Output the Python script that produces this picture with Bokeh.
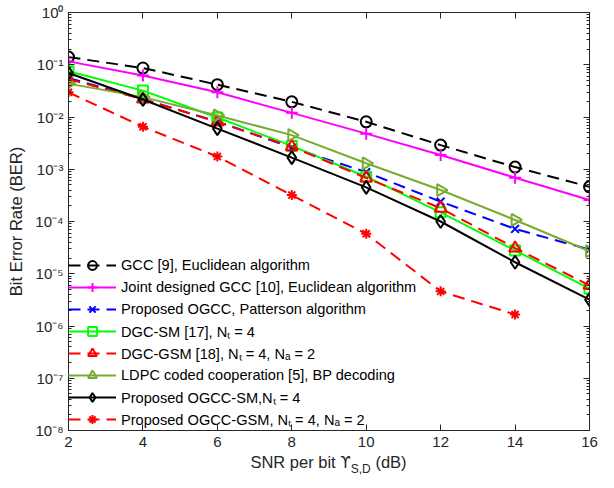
import numpy as np
from bokeh.plotting import figure
from bokeh.models import (Range1d, LinearAxis, LogAxis, FixedTicker, CustomJSTickFormatter,
                          Legend, LegendItem, Div, CustomLabelingPolicy)
from bokeh.layouts import column
from bokeh.embed import file_html
from bokeh.resources import INLINE

# ---------------- data ----------------
snr = [2, 4, 6, 8, 10, 12, 14, 16]
snr_gsm = [2, 4, 6, 8, 10, 12, 14]

ber_gcc = [0.14, 0.0865, 0.0416, 0.0195, 0.0081, 0.0029, 0.0011, 4.6e-4]
ber_joint = [0.116, 0.062, 0.0297, 0.012, 0.0048, 0.00187, 6.9e-4, 2.57e-4]
ber_ogcc = [0.056, 0.022, 0.0082, 0.0026, 8.8e-4, 2.4e-4, 7.2e-5, 2.9e-5]
ber_dgc_sm = [0.075, 0.032, 0.0098, 0.0028, 7.2e-4, 1.5e-4, 2.8e-5, 5.2e-6]
ber_dgc_gsm = [0.053, 0.022, 0.008, 0.0027, 6.8e-4, 1.8e-4, 3.1e-5, 6.0e-6]
ber_ldpc = [0.0435, 0.024, 0.0107, 0.0045, 0.0013, 4.0e-4, 1.07e-4, 2.7e-5]
ber_ogcc_sm = [0.0695, 0.0216, 0.006, 0.00167, 4.5e-4, 1.0e-4, 1.66e-5, 3.2e-6]
ber_ogcc_gsm = [0.0297, 0.0065, 0.00175, 3.2e-4, 5.8e-5, 4.6e-6, 1.66e-6]

x_ticks = [2, 4, 6, 8, 10, 12, 14, 16]
decades = list(range(-8, 1))

labels = [
    "GCC [9], Euclidean algorithm",
    "Joint designed GCC [10], Euclidean algorithm",
    "Proposed OGCC, Patterson algorithm",
    "DGC-SM [17], N\u209c = 4",
    "DGC-GSM [18], N\u209c = 4, N\u2090 = 2",
    "LDPC coded cooperation [5], BP decoding",
    "Proposed OGCC-SM,N\u209c = 4",
    "Proposed OGCC-GSM, N\u209c = 4, N\u2090 = 2",
]
x_label_main = "SNR per bit "
x_label_sym = "\u03d2"
x_label_sub = "S,D"
x_label_unit = " (dB)"

FONT = "Liberation Sans"
TXT = "#262626"
LEFT, RIGHT, TOP, BOTTOM = 68, 9, 12, 22
W, H = 598, 452
DIV_H = 20

p = figure(width=W, height=H, output_backend="svg", toolbar_location=None,
           y_axis_type="log", x_range=Range1d(2, 16), y_range=Range1d(1e-8, 1),
           min_border_left=LEFT, min_border_right=RIGHT, min_border_top=TOP,
           min_border_bottom=BOTTOM)
p.xgrid.visible = False
p.ygrid.visible = False
p.outline_line_color = TXT
p.outline_line_width = 1
p.background_fill_color = "white"

major_y = [10.0 ** d for d in decades]
minor_y = [m * 10.0 ** d for d in decades[:-1] for m in range(2, 10)]
yticker = FixedTicker(ticks=major_y, minor_ticks=minor_y)
xticker = FixedTicker(ticks=x_ticks, minor_ticks=[])

fmt = CustomJSTickFormatter(code="""
const sup = {'0':'\u2070','1':'\u00b9','2':'\u00b2','3':'\u00b3','4':'\u2074','5':'\u2075',
             '6':'\u2076','7':'\u2077','8':'\u2078','9':'\u2079','-':'\u207b'};
const e = Math.round(Math.log10(tick));
return '10' + String(e).split('').map(c => sup[c]).join('');
""")

no_labels = CustomLabelingPolicy(code="""
for (const i of indices) { indices.unset(i) }
return indices
""")


def style_axis(ax, show_labels=True):
    ax.axis_line_color = TXT
    ax.major_tick_line_color = TXT
    ax.minor_tick_line_color = TXT
    ax.major_tick_in = 6
    ax.major_tick_out = 0
    ax.minor_tick_in = 3
    ax.minor_tick_out = 0
    ax.major_label_text_font = FONT
    ax.major_label_text_color = TXT
    if show_labels:
        ax.major_label_text_font_size = "15px"
    else:
        ax.major_label_text_font_size = "0px"
        ax.major_label_policy = no_labels
        ax.major_label_standoff = 0


xa = p.xaxis[0]
xa.ticker = xticker
style_axis(xa)
xa.major_label_standoff = 6

ya = p.yaxis[0]
ya.ticker = yticker
ya.formatter = fmt
style_axis(ya)
ya.major_label_standoff = 5
ya.axis_label = "Bit Error Rate (BER)"
ya.axis_label_text_font = FONT
ya.axis_label_text_font_size = "16.5px"
ya.axis_label_text_font_style = "normal"
ya.axis_label_text_color = TXT
ya.axis_label_standoff = 7

top = LinearAxis(ticker=xticker)
style_axis(top, show_labels=False)
p.add_layout(top, "above")
right = LogAxis(ticker=yticker, formatter=fmt)
style_axis(right, show_labels=False)
p.add_layout(right, "right")

LW = 2
DASH = "12 7"
series = [
    (snr, ber_gcc, "black", DASH, "circle", 11, 0),
    (snr, ber_joint, "#FF00FF", "solid", "cross", 12, 0),
    (snr, ber_ogcc, "#0000FF", DASH, "x", 11, 0),
    (snr, ber_dgc_sm, "#00FF00", "solid", "square", 10, 0),
    (snr, ber_dgc_gsm, "#FF0000", DASH, "triangle", 12, 0),
    (snr, ber_ldpc, "#77AC30", "solid", "triangle", 12, -np.pi / 2),
    (snr, ber_ogcc_sm, "black", "solid", "diamond", 13, 0),
    (snr_gsm, ber_ogcc_gsm, "#FF0000", DASH, "asterisk", 10, 0),
]

items = []
for (xs, ys, col, dash, marker, size, ang), lab in zip(series, labels):
    r1 = p.line(xs, ys, line_color=col, line_width=LW, line_dash=dash)
    r2 = p.scatter(xs, ys, marker=marker, size=size, angle=ang, line_color=col,
                   fill_color=None, line_width=LW)
    items.append(LegendItem(label=lab, renderers=[r1, r2]))

legend = Legend(items=items, location=(0, 0), glyph_width=48, glyph_height=22,
                spacing=0, label_standoff=5, padding=2, margin=0,
                label_text_font=FONT, label_text_font_size="14.6px", label_text_color="black",
                background_fill_alpha=0, border_line_color=None,
                label_height=19)
p.add_layout(legend, "center")

frame_w = W - LEFT - RIGHT
html = ('<div style="width:%dpx;margin-left:%dpx;text-align:center;'
        'font-family:\'Liberation Sans\',Arial,sans-serif;font-size:16.5px;line-height:%dpx;'
        'color:%s;white-space:nowrap">%s<span style="font-family:\'DejaVu Sans\';font-size:15px">%s</span>'
        '<sub style="font-size:12px;line-height:0;vertical-align:-5px">%s</sub>%s</div>') % (
    frame_w, LEFT, DIV_H, TXT, x_label_main, x_label_sym, x_label_sub, x_label_unit)
xlabel = Div(text=html, width=W, height=DIV_H, margin=(0, 0, 0, 0))

layout = column(p, xlabel, spacing=0)
open("out.html", "w").write(file_html(layout, INLINE))
